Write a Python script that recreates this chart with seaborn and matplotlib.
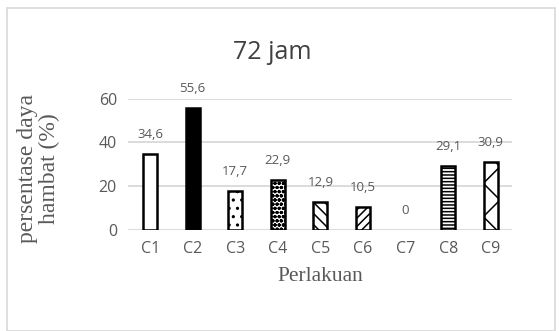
import numpy as np
import pandas as pd
import seaborn as sns
import matplotlib.pyplot as plt
from matplotlib.patches import Rectangle

# Data
perlakuan = ['C1', 'C2', 'C3', 'C4', 'C5', 'C6', 'C7', 'C8', 'C9']
daya_hambat = [34.6, 55.6, 17.7, 22.9, 12.9, 10.5, 0, 29.1, 30.9]
label_nilai = ['34,6', '55,6', '17,7', '22,9', '12,9', '10,5', '0', '29,1', '30,9']
hatches = ['', '', '..', 'oooo', '\\\\\\', '////', '', '-----', 'x']
fills = ['white', 'black', 'white', 'white', 'white', 'white', 'white', 'white', 'white']

df = pd.DataFrame({'perlakuan': perlakuan, 'nilai': daya_hambat})

sns.set_style("white")
plt.rcParams['hatch.linewidth'] = 1.1

fig = plt.figure(figsize=(5.59, 3.31), dpi=100)
ax = fig.add_axes([0.229, 0.305, 0.687, 0.397])

sns.barplot(data=df, x='perlakuan', y='nilai', color='white', edgecolor='black',
            linewidth=1.8, width=0.33, ax=ax)

for patch, h, fc, v in zip(ax.patches, hatches, fills, daya_hambat):
    patch.set_facecolor(fc)
    patch.set_hatch(h)
    if v == 0:
        patch.set_linewidth(0)

# Value labels
for i, (v, lab) in enumerate(zip(daya_hambat, label_nilai)):
    ax.text(i, v + 6, lab, ha='center', va='bottom', fontsize=9.5,
            color='#595959', family='Open Sans', clip_on=False)

ax.set_xlim(-0.52, 8.5)
ax.set_ylim(0, 60)
ax.set_yticks([0, 20, 40, 60])
ax.yaxis.grid(True, color='#d9d9d9', linewidth=1.3)
ax.set_axisbelow(True)
for s in ax.spines.values():
    s.set_visible(False)
ax.tick_params(axis='both', length=0, labelsize=11.5, colors='#595959', pad=8)
for t in ax.get_xticklabels() + ax.get_yticklabels():
    t.set_family('Open Sans')

ax.set_xlabel('Perlakuan', family='Liberation Serif', fontsize=15.5, color='#595959', labelpad=7)
ax.set_ylabel('persentase daya\nhambat (%)', family='Liberation Serif', fontsize=17,
              color='#595959', linespacing=1.05)
ax.yaxis.set_label_coords(-0.177, 0.47)

fig.text(0.487, 0.842, '72 jam', ha='center', va='center', fontsize=18,
         color='#404040', family='Open Sans')

# outer border
fig.patches.append(Rectangle((7 / 559, 0), 548 / 559, 1 - 8 / 331, transform=fig.transFigure,
                             fill=False, edgecolor='#d9d9d9', linewidth=1.2))

plt.savefig('out.png', dpi=100)
